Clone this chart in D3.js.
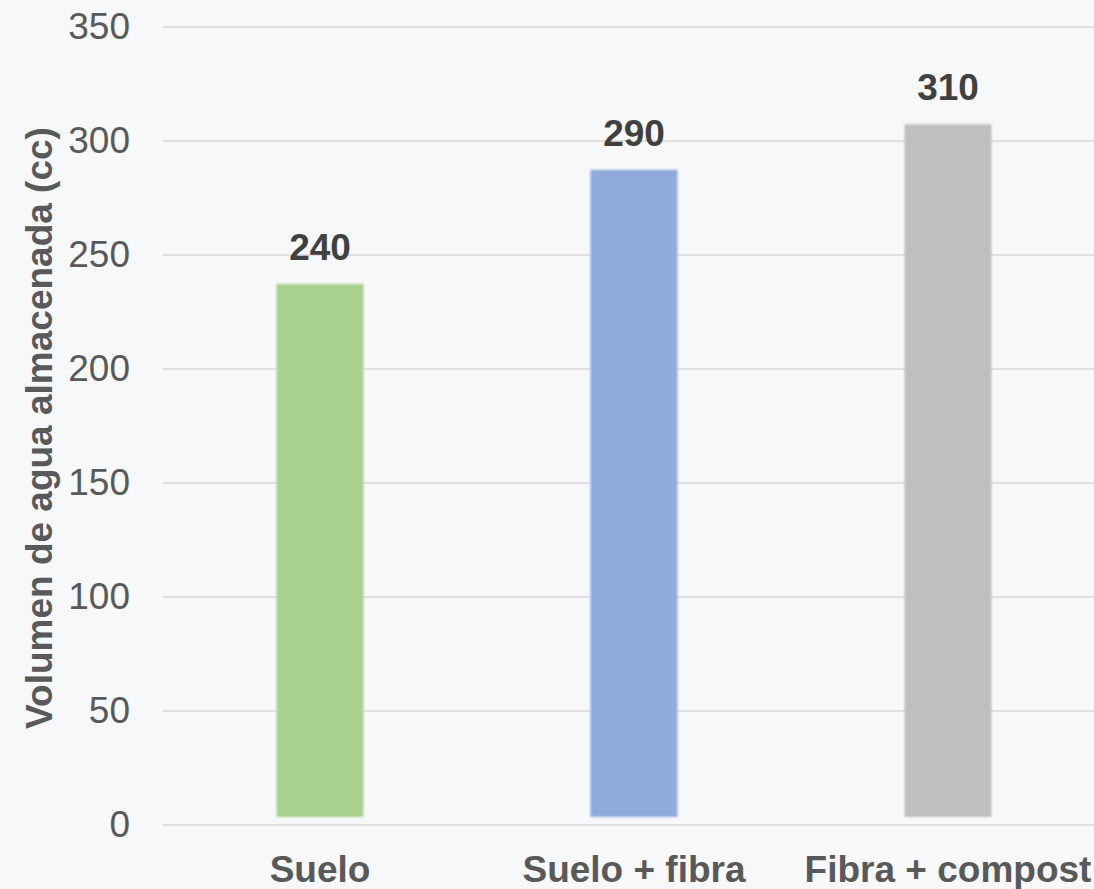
<!DOCTYPE html>
<html>
<head>
<meta charset="utf-8">
<script src="https://cdn.jsdelivr.net/npm/d3@7"></script>
<style>
  html, body { margin: 0; padding: 0; background: #f7f8f9; }
  svg { display: block; font-family: "Liberation Sans", Arial, sans-serif; }
</style>
</head>
<body>
<div id="chart"></div>
<script>
// Data
const categories = ["Suelo", "Suelo + fibra", "Fibra + compost"];
const volumes = [240, 290, 310];
const barColors = ["#a9d18e", "#8faadc", "#bfbfbf"];
const yTicks = [0, 50, 100, 150, 200, 250, 300, 350];
const yTitle = "Volumen de agua almacenada (cc)";

const W = 1094, H = 889;
const margin = { top: 27, right: -11, bottom: 64, left: 163 };

const svg = d3.select("#chart").append("svg")
    .attr("width", W)
    .attr("height", H);

svg.append("rect")
    .attr("width", W).attr("height", H)
    .attr("fill", "#f7f8f9");

// soft edges like the original bars
svg.append("defs").append("filter")
    .attr("id", "soft")
    .append("feGaussianBlur")
    .attr("stdDeviation", 0.8);

const y = d3.scaleLinear()
    .domain([0, 350])
    .range([H - margin.bottom, margin.top]);

const x = d3.scaleBand()
    .domain(categories)
    .range([margin.left, W - margin.right])
    .paddingInner(0.723)
    .paddingOuter(0.3615);

// Gridlines
svg.append("g")
    .selectAll("line")
    .data(yTicks)
    .join("line")
    .attr("x1", margin.left)
    .attr("x2", W)
    .attr("y1", d => y(d))
    .attr("y2", d => y(d))
    .attr("stroke", "#d9d9d9")
    .attr("stroke-width", 1.5);

// Y axis labels
const yAxis = d3.axisLeft(y)
    .tickValues(yTicks)
    .tickSize(0)
    .tickPadding(0);

svg.append("g")
    .attr("transform", `translate(130,0)`)
    .call(yAxis)
    .call(g => g.select(".domain").remove())
    .call(g => g.selectAll("text")
        .attr("fill", "#595959")
        .attr("font-size", 37)
        .attr("font-family", "Liberation Sans, Arial, sans-serif"));

// Bars (drawn slightly inset, as in the source image)
svg.append("g")
    .attr("filter", "url(#soft)")
    .selectAll("rect")
    .data(volumes)
    .join("rect")
    .attr("x", (d, i) => x(categories[i]))
    .attr("width", x.bandwidth())
    .attr("y", d => y(d) + 6)
    .attr("height", d => y(0) - 8 - (y(d) + 6))
    .attr("fill", (d, i) => barColors[i]);

// Value labels
svg.append("g")
    .selectAll("text")
    .data(volumes)
    .join("text")
    .attr("x", (d, i) => x(categories[i]) + x.bandwidth() / 2)
    .attr("y", d => y(d) - 18)
    .attr("text-anchor", "middle")
    .attr("font-size", 37)
    .attr("font-weight", "bold")
    .attr("fill", "#404040")
    .text(d => d);

// X labels
const xAxis = d3.axisBottom(x).tickSize(0).tickPadding(0);
svg.append("g")
    .attr("transform", `translate(0,${y(0)})`)
    .call(xAxis)
    .call(g => g.select(".domain").remove())
    .call(g => g.selectAll("text")
        .attr("dy", null)
        .attr("y", 57)
        .attr("fill", "#595959")
        .attr("font-size", 37)
        .attr("font-weight", "bold")
        .attr("font-family", "Liberation Sans, Arial, sans-serif"));

// Y title
svg.append("text")
    .attr("transform", `translate(52,${(margin.top + y(0)) / 2 + 2}) rotate(-90)`)
    .attr("text-anchor", "middle")
    .attr("font-size", 37)
    .attr("font-weight", "bold")
    .attr("fill", "#595959")
    .text(yTitle);
</script>
</body>
</html>
